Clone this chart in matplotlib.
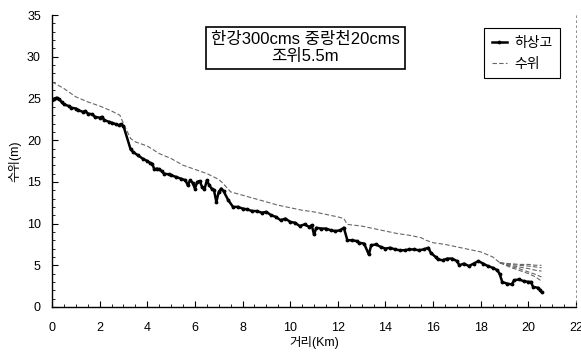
import matplotlib
matplotlib.use("Agg")
import matplotlib.pyplot as plt
from matplotlib.ticker import MultipleLocator

MIXED = ['Liberation Sans', 'Noto Sans CJK KR', 'DejaVu Sans']
plt.rcParams['font.family'] = MIXED

# River-bed elevation (하상고) along the channel
bed_x = [0.0, 0.1, 0.2, 0.3, 0.4, 0.5, 0.7, 0.8, 1.0, 1.1, 1.3, 1.4, 1.5, 1.7, 1.8,
         2.0, 2.1, 2.2, 2.4, 2.5, 2.7, 2.8, 2.9, 3.0, 3.3, 3.4, 3.6, 3.8, 4.0, 4.1,
         4.2, 4.3, 4.4, 4.5, 4.6, 4.7, 4.9, 5.0, 5.2, 5.4, 5.6, 5.7, 5.8, 5.9, 6.0,
         6.1, 6.2, 6.3, 6.4, 6.5, 6.6, 6.7, 6.8, 6.9, 7.0, 7.1, 7.2, 7.4, 7.6, 7.8,
         8.0, 8.2, 8.4, 8.6, 8.8, 9.0, 9.2, 9.4, 9.6, 9.8, 10.0, 10.2, 10.4, 10.6,
         10.8, 10.9, 11.0, 11.1, 11.3, 11.5, 11.7, 11.9, 12.1, 12.25, 12.4, 12.6,
         12.8, 12.9, 13.1, 13.3, 13.4, 13.6, 13.8, 14.0, 14.2, 14.4, 14.6, 14.8,
         15.0, 15.2, 15.4, 15.6, 15.8, 15.9, 16.1, 16.2, 16.4, 16.6, 16.8, 17.0,
         17.1, 17.3, 17.5, 17.7, 17.9, 18.1, 18.3, 18.5, 18.7, 18.8, 18.9, 19.1,
         19.3, 19.4, 19.6, 19.8, 20.0, 20.1, 20.2, 20.4, 20.5, 20.55]
bed_y = [24.8, 25.0, 25.1, 24.9, 24.6, 24.3, 24.1, 23.9, 23.8, 23.6, 23.4, 23.5, 23.2,
         23.1, 22.8, 22.7, 22.8, 22.4, 22.2, 22.1, 21.9, 21.8, 21.9, 21.7, 18.9, 18.6,
         18.2, 17.8, 17.5, 17.3, 17.2, 16.5, 16.6, 16.5, 16.3, 16.0, 15.9, 15.8, 15.6,
         15.4, 15.2, 14.6, 15.2, 14.9, 14.2, 15.0, 15.1, 14.4, 14.1, 15.2, 14.6, 14.2,
         14.0, 12.6, 13.8, 14.2, 13.9, 12.8, 12.0, 12.0, 11.8, 11.7, 11.5, 11.5, 11.3,
         11.4, 11.0, 10.8, 10.4, 10.6, 10.2, 10.1, 9.7, 9.9, 9.6, 9.8, 8.7, 9.5, 9.4,
         9.4, 9.2, 9.1, 9.2, 9.5, 8.0, 8.0, 7.9, 7.7, 7.6, 6.3, 7.4, 7.5, 7.2, 7.0,
         7.1, 6.9, 6.8, 6.8, 6.9, 6.9, 6.8, 6.9, 7.1, 6.5, 6.0, 5.7, 5.6, 5.8, 5.8,
         5.5, 5.0, 5.2, 4.9, 5.2, 5.5, 5.2, 4.9, 4.7, 4.4, 3.9, 3.0, 2.8, 2.7, 3.2,
         3.3, 3.1, 3.0, 3.0, 2.4, 2.3, 2.0, 1.8]

# Water surface elevation (수위)
wl_x = [0.0, 0.5, 1.0, 1.5, 2.0, 2.5, 2.85, 3.0, 3.3, 3.5, 4.0, 4.5, 5.0, 5.5, 6.0,
        6.5, 7.0, 7.15, 7.5, 8.0, 8.5, 9.0, 9.5, 10.0, 10.5, 11.0, 11.5, 12.0, 12.25,
        12.4, 13.0, 13.5, 14.0, 14.5, 15.0, 15.5, 15.7, 16.0, 16.5, 17.0, 17.5, 18.0,
        18.5, 18.8]
wl_y = [27.0, 26.2, 25.2, 24.6, 24.1, 23.5, 23.0, 22.0, 20.2, 19.8, 19.3, 18.4, 17.8,
        17.0, 16.5, 16.0, 15.3, 14.9, 13.8, 13.4, 13.0, 12.6, 12.2, 11.9, 11.6, 11.4,
        11.1, 10.8, 10.6, 9.9, 9.7, 9.4, 9.1, 8.8, 8.6, 8.3, 8.0, 7.7, 7.5, 7.2, 6.9,
        6.6, 6.0, 5.3]

# Downstream branches of the water surface near the outlet
branch_x = [18.8, 19.2, 19.6, 20.0, 20.3, 20.55]
branch_y = [
    [5.3, 5.2, 5.1, 5.1, 5.0, 5.0],
    [5.3, 5.1, 5.0, 4.9, 4.8, 4.7],
    [5.3, 5.0, 4.8, 4.6, 4.4, 4.3],
    [5.3, 4.9, 4.6, 4.2, 3.9, 3.6],
    [5.3, 4.8, 4.4, 4.0, 3.6, 3.1],
]

x_ticks = [0, 2, 4, 6, 8, 10, 12, 14, 16, 18, 20, 22]
y_ticks = [0, 5, 10, 15, 20, 25, 30, 35]

fig = plt.figure(figsize=(5.81, 3.52), dpi=100)
ax = fig.add_axes([0.0895, 0.128, 0.902, 0.829])

wl_style = dict(color='#666666', lw=0.8, dashes=(4, 2))
ax.plot(wl_x, wl_y, label='수위', **wl_style)
for by in branch_y:
    ax.plot(branch_x, by, **wl_style)
ax.plot(bed_x, bed_y, color='black', lw=1.8, marker='.', ms=3.5, label='하상고')

ax.set_xlim(0, 22)
ax.set_ylim(0, 35)
ax.set_xticks(x_ticks)
ax.set_yticks(y_ticks)
ax.xaxis.set_minor_locator(MultipleLocator(0.5))
ax.yaxis.set_minor_locator(MultipleLocator(1))
ax.tick_params(which='both', direction='in', labelsize=9)
ax.tick_params(axis='x', which='both', pad=11)
ax.tick_params(axis='y', which='both', pad=8)
ax.tick_params(which='major', length=4, width=0.8)
ax.tick_params(which='minor', length=2, width=0.6)
ax.tick_params(axis='y', which='both', right=False)
ax.tick_params(axis='x', which='both', top=False)

ax.spines['top'].set_visible(False)
ax.spines['right'].set_linestyle((0, (2, 4)))
ax.spines['right'].set_linewidth(0.6)
ax.spines['right'].set_color('#777777')
ax.spines['left'].set_linewidth(1.0)
ax.spines['bottom'].set_linewidth(1.0)

ax.set_xlabel('거리(Km)', fontsize=9, labelpad=1)
ax.set_ylabel('수위(m)', fontsize=9, labelpad=4)

ax.text(0.483, 0.887, '한강300cms 중랑천20cms\n조위5.5m', transform=ax.transAxes,
        ha='center', va='center', fontsize=12, linespacing=1.15,
        bbox=dict(boxstyle='square,pad=0.3', fc='white', ec='black', lw=1.2))

handles, labels = ax.get_legend_handles_labels()
order = [labels.index('하상고'), labels.index('수위')]
leg = ax.legend([handles[i] for i in order], [labels[i] for i in order],
                loc='upper right', bbox_to_anchor=(0.969, 0.955), borderaxespad=0,
                prop={'size': 10}, handlelength=1.1, handletextpad=0.5, numpoints=1,
                fancybox=False, edgecolor='black', framealpha=1, borderpad=0.55,
                labelspacing=0.5)
leg.get_frame().set_linewidth(0.8)

fig.savefig('out.png', dpi=100)
